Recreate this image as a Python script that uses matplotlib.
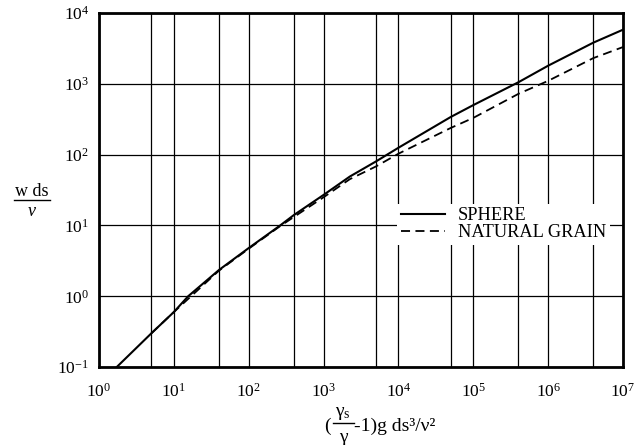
import matplotlib
matplotlib.use("Agg")
import matplotlib.pyplot as plt
from matplotlib.lines import Line2D
from matplotlib.ticker import FixedLocator, NullFormatter

plt.rcParams['font.family'] = ['Liberation Serif', 'DejaVu Serif']
plt.rcParams['mathtext.fontset'] = 'custom'
plt.rcParams['mathtext.rm'] = 'Liberation Serif'
plt.rcParams['mathtext.it'] = 'Liberation Serif:italic'
plt.rcParams['axes.unicode_minus'] = False

# values
sphere_x = [1.72, 5, 10, 15.5, 40, 100, 263, 400, 1000, 2240, 5000, 1e4, 5e4, 1e5, 4e5, 1e6, 4e6, 1e7]
sphere_y = [0.1, 0.3, 0.6, 1.0, 2.35, 4.8, 10, 14, 27, 49, 80, 125, 340, 500, 1050, 1800, 3800, 5800]

grain_x = [5, 10, 40, 100, 263, 1000, 2240, 5000, 1e4, 5e4, 1e5, 4e5, 1e6, 4e6, 1e7]
grain_y = [0.3, 0.6, 2.3, 4.7, 9.8, 25, 45, 68, 103, 238, 330, 720, 1100, 2300, 3300]

# hand-drawn intermediate grid lines
extra_x = [5, 40, 400, 5000, 5e4, 4e5, 4e6]

W, H = 643, 445
fig = plt.figure(figsize=(6.43, 4.45), dpi=100)
ax = fig.add_axes([0.154, 0.175, 0.815, 0.796])

ax.plot(sphere_x, sphere_y, color='black', lw=1.5, label='SPHERE')
ax.plot(grain_x, grain_y, color='black', lw=1.3, ls=(0, (5, 3)), label='NATURAL GRAIN')

ax.set_xscale('log')
ax.set_yscale('log')
ax.set_xlim(1, 1e7)
ax.set_ylim(0.1, 1e4)

ax.xaxis.set_minor_locator(FixedLocator(extra_x))
ax.xaxis.set_minor_formatter(NullFormatter())
ax.yaxis.set_minor_locator(FixedLocator([]))
ax.grid(True, which='major', color='black', lw=0.9)
ax.grid(True, which='minor', axis='x', color='black', lw=0.9)
ax.set_axisbelow(True)

ax.tick_params(which='both', length=0, labelsize=12.5)
ax.tick_params(axis='x', pad=11)
ax.tick_params(axis='y', pad=7)
for s in ax.spines.values():
    s.set_linewidth(2)

leg = ax.legend(loc='center left', bbox_to_anchor=(0.552, 0.403), fontsize=13.2,
                frameon=True, fancybox=False, edgecolor='none', facecolor='white',
                framealpha=1, handlelength=2.4, handletextpad=0.7,
                labelspacing=0.0, borderpad=0.2)


def px(x, y):
    return x / W, 1 - y / H


# y label: w ds over nu
fig.text(*px(32, 191), 'w ds', fontsize=13, ha='center', va='center')
fig.add_artist(Line2D([14 / W, 50 / W], [1 - 200 / H] * 2, color='black', lw=1,
                      transform=fig.transFigure))
fig.text(*px(32, 211), 'ν', fontsize=13, style='italic', ha='center', va='center')

# x label: (gamma_s / gamma - 1) g ds^3 / nu^2
fig.text(*px(324, 431), '(', fontsize=14, ha='left', va='baseline')
fig.text(*px(343, 414), r'$\mathrm{γ}_\mathrm{s}$', fontsize=14, ha='center', va='center')
fig.add_artist(Line2D([333 / W, 354 / W], [1 - 423 / H] * 2, color='black', lw=1,
                      transform=fig.transFigure))
fig.text(*px(343, 437), 'γ', fontsize=14, ha='center', va='center')
fig.text(*px(354, 431), '-1)g ds³/ν²', fontsize=14, ha='left', va='baseline')

fig.savefig('out.png', dpi=100)
